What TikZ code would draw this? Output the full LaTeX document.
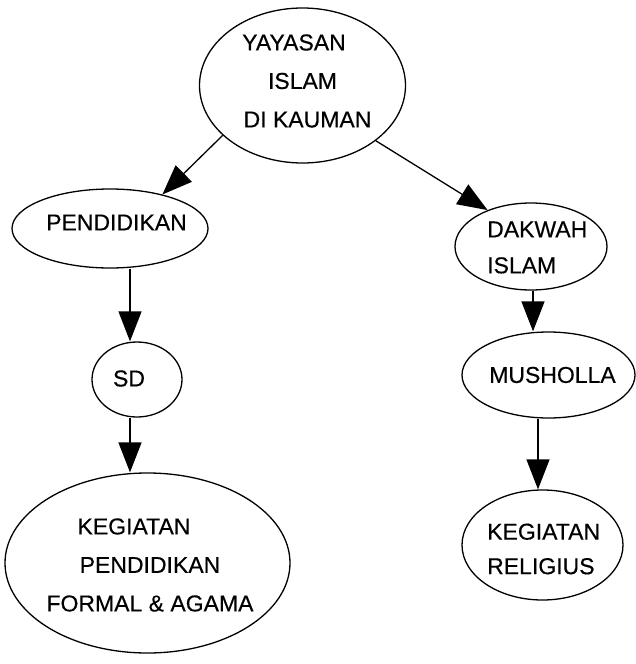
\documentclass[tikz,border=0pt]{standalone}
\usepackage{fontspec}
\setmainfont[FakeBold=0.4]{Liberation Sans}
\usetikzlibrary{shapes.geometric,arrows.meta}
\begin{document}
\begin{tikzpicture}[x=1pt,y=-1pt,
  ell/.style={draw, ellipse, line width=1.3pt, inner sep=0pt},
  txt/.style={inner sep=0pt, font=\fontsize{23}{38.5}\selectfont},
  arr/.style={line width=1.3pt, -{Triangle[length=30pt,width=23pt]}}]
\useasboundingbox (0,0) rectangle (636,664);
% ellipses
\node[ell, minimum width=206pt, minimum height=155pt] (top) at (302.5,85.5) {};
\node[ell, minimum width=196pt, minimum height=79pt] (pend) at (110,228.5) {};
\node[ell, minimum width=90pt, minimum height=75pt] (sd) at (137,379.5) {};
\node[ell, minimum width=285pt, minimum height=180pt] (keg) at (147.5,563) {};
\node[ell, minimum width=152pt, minimum height=87pt] (dak) at (531,246.5) {};
\node[ell, minimum width=173pt, minimum height=86pt] (mus) at (548.5,375) {};
\node[ell, minimum width=161pt, minimum height=110pt] (rel) at (542.5,545) {};
% texts
\node[txt, align=center] (topT) at (302.5,81) {YAYASAN\hspace*{17pt}\\ISLAM\hspace*{8pt}\\\hspace*{10pt}DI KAUMAN};
\node[txt] (pendT) at (116.5,222.5) {PENDIDIKAN};
\node[txt] (sdT) at (129,378.5) {SD};
\node[txt, align=center] (kegT) at (150,565) {KEGIATAN\hspace*{32pt}\\PENDIDIKAN\hspace*{25pt}\\FORMAL \& AGAMA};
\node[txt, align=left, anchor=west, font=\fontsize{23}{36}\selectfont] (dakT) at (487,247.5) {DAKWAH\\ISLAM};
\node[txt] (musT) at (552.5,375) {MUSHOLLA};
\node[txt, align=left, anchor=west, font=\fontsize{23}{34.5}\selectfont] (relT) at (487,549) {KEGIATAN\\RELIGIUS};
% connectors
\draw[arr] (top.-148) -- (pend.33);
\draw[arr] (top.-37) -- (dak.140);
\draw[arr] ([xshift=20pt]pend.south) -- ([xshift=-7pt]sd.north);
\draw[arr] ([xshift=-7pt]sd.south) -- ([xshift=-17.5pt]keg.north);
\draw[arr] ([xshift=2pt]dak.south) -- ([xshift=-15.5pt]mus.north);
\draw[arr] ([xshift=-10.5pt]mus.south) -- ([xshift=-4.5pt]rel.north);
\end{tikzpicture}
\end{document}
